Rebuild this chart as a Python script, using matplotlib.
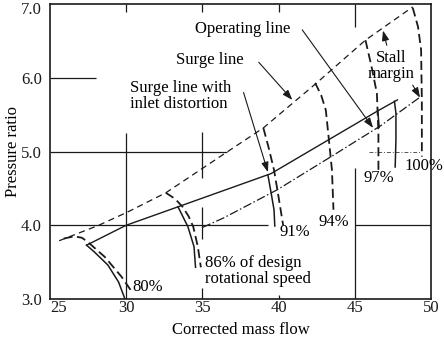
import matplotlib
matplotlib.use("Agg")
import matplotlib.pyplot as plt
from matplotlib.transforms import ScaledTranslation

plt.rcParams['font.family'] = ['Liberation Serif', 'DejaVu Serif']
plt.rcParams['font.size'] = 12

# surge line (clean inlet), dashed
surge_x = [25.6, 28.2, 30.1, 32.6, 36.3, 39.0, 42.5, 45.7, 48.8]
surge_y = [3.79, 4.00, 4.18, 4.44, 4.95, 5.32, 5.93, 6.51, 6.96]

# surge line with inlet distortion, solid
dist_x = [27.4, 30.0, 33.4, 39.5, 46.5, 47.8]
dist_y = [3.73, 4.00, 4.25, 4.70, 5.55, 5.70]

# operating line, dash-dot
op_x = [35.0, 36.4, 39.9, 43.6, 46.7, 49.3]
op_y = [3.97, 4.10, 4.48, 4.95, 5.35, 5.74]

# constant speed lines, clean inlet (dashed)
clean_lines = {
    '80': ([25.9, 26.6, 27.1, 27.5, 28.6, 29.7, 30.3], [3.82, 3.85, 3.83, 3.77, 3.57, 3.30, 3.12]),
    '86': ([32.6, 33.2, 33.7, 34.1, 34.4, 34.7, 34.9], [4.44, 4.36, 4.25, 4.12, 3.98, 3.71, 3.43]),
    '91': ([39.0, 39.35, 39.7, 40.0, 40.3], [5.32, 5.05, 4.75, 4.38, 4.00]),
    '94': ([42.4, 42.8, 43.1, 43.3, 43.5, 43.6], [5.93, 5.76, 5.56, 5.16, 4.75, 4.21]),
    '97': ([45.7, 46.1, 46.45, 46.55, 46.55], [6.51, 6.15, 5.79, 5.25, 4.71]),
    '100': ([48.8, 49.15, 49.35, 49.4, 49.4], [6.95, 6.69, 6.38, 5.70, 4.93]),
}

# constant speed lines with inlet distortion (solid)
dist_lines = {
    '80': ([27.4, 27.9, 28.8, 29.5, 29.9], [3.73, 3.64, 3.46, 3.23, 3.01]),
    '86': ([33.4, 34.05, 34.45, 34.55], [4.25, 3.98, 3.71, 3.43]),
    '91': ([39.3, 39.5, 39.7, 39.75], [4.68, 4.45, 4.21, 3.99]),
    '97': ([46.5, 46.6], [5.57, 5.33]),
    '100': ([47.6, 47.7, 47.7, 47.65], [5.68, 5.52, 5.16, 4.79]),
}

x_ticks = [25, 30, 35, 40, 45, 50]
y_ticks = [3.0, 4.0, 5.0, 6.0, 7.0]

ink = '#1a1a1a'

fig = plt.figure(figsize=(4.44, 3.42), dpi=100)
ax = fig.add_axes([0.1126, 0.1257, 0.9707 - 0.1126, 0.9883 - 0.1257])
ax.set_xlim(25, 50)
ax.set_ylim(3, 7)

# partial grid, drawn as in the original (broken up around the labels)
h_grid = [(6.0, 25, 28.0), (5.0, 25, 36.6), (4.0, 25, 39.3), (4.0, 45, 50)]
v_grid = [(30, 3.0, 5.25), (30, 6.89, 7.0), (35, 6.89, 7.0), (40, 6.89, 7.0),
          (35, 4.64, 5.26), (35, 3.82, 4.25), (35, 3.0, 3.15), (40, 3.0, 3.06),
          (45, 3.0, 4.78), (45, 6.69, 7.0)]
for y, x0, x1 in h_grid:
    ax.hlines(y, x0, x1, color=ink, lw=0.9)
for x, y0, y1 in v_grid:
    ax.vlines(x, y0, y1, color=ink, lw=0.9)
ax.hlines(5.0, 45.9, 49.3, color='#555555', lw=0.7, linestyles=(0, (4, 2, 1, 2)))

ax.plot(surge_x, surge_y, color=ink, lw=0.9, linestyle=(0, (5, 3.5)))
ax.plot(dist_x, dist_y, color=ink, lw=1.0)
ax.plot(op_x, op_y, color=ink, lw=0.9, linestyle=(0, (7, 2, 1.2, 2)))

for key, (xs, ys) in clean_lines.items():
    ax.plot(xs, ys, color=ink, lw=1.3, linestyle=(0, (5, 2.5)))
for key, (xs, ys) in dist_lines.items():
    ax.plot(xs, ys, color=ink, lw=1.1)

arrow = dict(arrowstyle='-|>,head_length=0.5,head_width=0.18', color=ink, lw=0.8,
             shrinkA=0, shrinkB=0)
ax.text(37.63, 6.66, 'Operating line', ha='center', va='center')
ax.annotate('', xy=(46.2, 5.32), xytext=(41.55, 6.65), arrowprops=arrow)
ax.text(35.5, 6.24, 'Surge line', ha='center', va='center')
ax.annotate('', xy=(40.9, 5.70), xytext=(38.7, 6.21), arrowprops=arrow)
ax.text(30.25, 5.75, 'Surge line with\ninlet distortion', ha='left', va='center',
        linespacing=1.0)
ax.annotate('', xy=(39.3, 4.72), xytext=(37.7, 5.80), arrowprops=arrow)
ax.text(47.38, 6.16, 'Stall\nmargin', ha='center', va='center', linespacing=1.0)
ax.annotate('', xy=(46.85, 6.64), xytext=(47.1, 6.44), arrowprops=arrow)
ax.annotate('', xy=(49.28, 5.73), xytext=(48.8, 5.90), arrowprops=arrow)

ax.text(30.38, 3.16, '80%', ha='left', va='center')
ax.text(35.17, 3.38, '86% of design\nrotational speed', ha='left', va='center',
        linespacing=1.0)
ax.text(40.09, 3.91, '91%', ha='left', va='center')
ax.text(42.59, 4.04, '94%', ha='left', va='center')
ax.text(45.54, 4.64, '97%', ha='left', va='center')
ax.text(48.29, 4.80, '100%', ha='left', va='center')

ax.set_xticks(x_ticks)
ax.set_yticks(y_ticks)
ax.set_yticklabels([f'{v:.1f}' for v in y_ticks])
ax.tick_params(length=0, labelsize=12, colors=ink)
ax.tick_params(axis='x', pad=1)
ax.tick_params(axis='y', pad=6)
ax.get_xticklabels()[0].set_ha('left')
top_label = ax.get_yticklabels()[-1]
top_label.set_transform(top_label.get_transform()
                        + ScaledTranslation(0, -0.04, fig.dpi_scale_trans))
for s in ax.spines.values():
    s.set_linewidth(1.2)
    s.set_color(ink)

ax.set_xlabel('Corrected mass flow', labelpad=4)
ax.set_ylabel('Pressure ratio')
ax.yaxis.set_label_coords(-0.077, 0.5)

fig.savefig('out.png', dpi=100)
